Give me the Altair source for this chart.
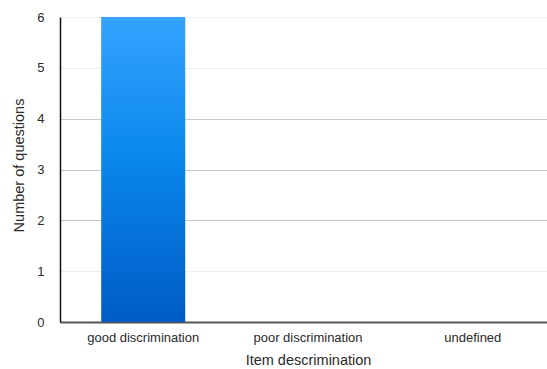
import altair as alt
import pandas as pd

categories = ["good discrimination", "poor discrimination", "undefined"]
counts = [6, 0, 0]

df = pd.DataFrame({"category": categories, "count": counts})

bar_fill = {
    "gradient": "linear",
    "x1": 0, "y1": 1, "x2": 0, "y2": 0,
    "stops": [
        {"offset": 0, "color": "#005bc6"},
        {"offset": 0.55, "color": "#0a88ec"},
        {"offset": 1, "color": "#35a3ff"},
    ],
}

font = "Liberation Sans"

chart = (
    alt.Chart(df)
    .mark_bar(color=bar_fill)
    .encode(
        x=alt.X(
            "category:N",
            sort=categories,
            scale=alt.Scale(range=[0, 496], paddingInner=0.49, paddingOuter=0.25),
            axis=alt.Axis(
                title="Item descrimination",
                labelAngle=0,
                ticks=False,
                labelPadding=9,
                labelFontSize=13,
                labelColor="#2a2a2a",
                titleFontSize=14.5,
                titleFontWeight="normal",
                titleColor="#2a2a2a",
                titlePadding=9,
                domainColor="#555555",
                domainWidth=2,
                grid=False,
            ),
        ),
        y=alt.Y(
            "count:Q",
            scale=alt.Scale(domain=[0, 6], nice=False),
            axis=alt.Axis(
                title="Number of questions",
                values=[0, 1, 2, 3, 4, 5, 6],
                ticks=False,
                labelPadding=16,
                labelFontSize=13,
                labelColor="#2a2a2a",
                titleFontSize=14.5,
                titleFontWeight="normal",
                titleColor="#2a2a2a",
                titlePadding=10,
                titleY=148,
                domainColor="#111111",
                domainWidth=1.5,
                gridColor={
                    "condition": {"test": "datum.value >= 2 && datum.value <= 4", "value": "#c8c8c8"},
                    "value": "#eeeeee",
                },
                gridWidth=1,
            ),
        ),
    )
    .properties(
        width=487,
        height=305,
        autosize="none",
        padding={"left": 60, "top": 17, "right": 0, "bottom": 47},
    )
    .configure_view(stroke=None)
    .configure_axis(labelFont=font, titleFont=font)
)

chart.save("out.html", embed_options={"renderer": "svg", "actions": False})
